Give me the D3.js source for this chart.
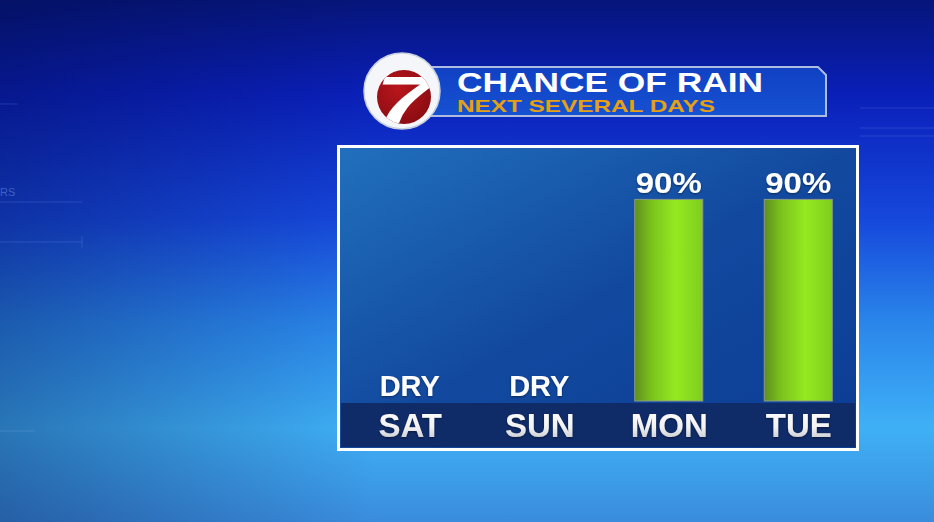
<!DOCTYPE html>
<html>
<head>
<meta charset="utf-8">
<script src="https://cdn.jsdelivr.net/npm/d3@7"></script>
<style>
  body { margin: 0; background: #0a2a9a; overflow: hidden; }
  svg { display: block; font-family: "Liberation Sans", Arial, sans-serif; font-weight: bold; }
</style>
</head>
<body>
<div id="chart"></div>
<script>
// chart data
const days = ["SAT", "SUN", "MON", "TUE"];
const rainChance = [0, 0, 90, 90];
const valueLabels = ["DRY", "DRY", "90%", "90%"];
const title = "CHANCE OF RAIN";
const subtitle = "NEXT SEVERAL DAYS";

const W = 934, H = 522;

const svg = d3.select("#chart").append("svg")
  .attr("width", W)
  .attr("height", H);

const defs = svg.append("defs");

// background gradients
const bg = defs.append("linearGradient").attr("id", "bg")
  .attr("x1", 0).attr("y1", 0).attr("x2", 0).attr("y2", 1);
[[0, "#06157a"], [0.18, "#0a1fb8"], [0.42, "#1648dc"], [0.62, "#2a86ea"], [0.82, "#3fb0f6"], [1, "#3a8cdc"]]
  .forEach(s => bg.append("stop").attr("offset", s[0]).attr("stop-color", s[1]));

const shade = defs.append("linearGradient").attr("id", "shade")
  .attr("x1", 0).attr("y1", 0).attr("x2", 1).attr("y2", 0);
[[0, "#000a40", 0.35], [0.4, "#000a40", 0], [1, "#000a40", 0]]
  .forEach(s => shade.append("stop").attr("offset", s[0]).attr("stop-color", s[1]).attr("stop-opacity", s[2]));

const panelGrad = defs.append("linearGradient").attr("id", "panel")
  .attr("x1", 0).attr("y1", 0).attr("x2", 1).attr("y2", 1);
panelGrad.append("stop").attr("offset", 0).attr("stop-color", "#2170bd");
panelGrad.append("stop").attr("offset", 0.5).attr("stop-color", "#12499f");
panelGrad.append("stop").attr("offset", 1).attr("stop-color", "#0c3c94");

const barGrad = defs.append("linearGradient").attr("id", "bar")
  .attr("x1", 0).attr("y1", 0).attr("x2", 1).attr("y2", 0);
[[0, "#5f8f1c"], [0.25, "#7cc21e"], [0.6, "#93ea1f"], [1, "#7fcd1f"]]
  .forEach(s => barGrad.append("stop").attr("offset", s[0]).attr("stop-color", s[1]));

const dayGrad = defs.append("linearGradient").attr("id", "dayText")
  .attr("x1", 0).attr("y1", 0).attr("x2", 0).attr("y2", 1);
dayGrad.append("stop").attr("offset", 0).attr("stop-color", "#ffffff");
dayGrad.append("stop").attr("offset", 0.55).attr("stop-color", "#f2f2f2");
dayGrad.append("stop").attr("offset", 1).attr("stop-color", "#b8bcc4");

const headGrad = defs.append("linearGradient").attr("id", "head")
  .attr("x1", 0).attr("y1", 0).attr("x2", 0).attr("y2", 1);
headGrad.append("stop").attr("offset", 0).attr("stop-color", "#1040c4");
headGrad.append("stop").attr("offset", 1).attr("stop-color", "#1652d2");

const logoGrad = defs.append("radialGradient").attr("id", "logoRed")
  .attr("cx", 0.4).attr("cy", 0.35).attr("r", 0.7);
logoGrad.append("stop").attr("offset", 0).attr("stop-color", "#b8161c");
logoGrad.append("stop").attr("offset", 1).attr("stop-color", "#8a0c12");

defs.append("clipPath").attr("id", "redClip")
  .append("circle").attr("cx", 404).attr("cy", 97).attr("r", 27);

defs.append("filter").attr("id", "txtShadow")
  .append("feDropShadow").attr("dx", 0).attr("dy", 1).attr("stdDeviation", 1)
  .attr("flood-color", "#000").attr("flood-opacity", 0.45);

// background
svg.append("rect").attr("width", W).attr("height", H).attr("fill", "url(#bg)");
svg.append("rect").attr("width", W).attr("height", H).attr("fill", "url(#shade)");

// faint decorative lines
const deco = svg.append("g").attr("stroke", "#8fc4ff").attr("stroke-opacity", 0.18).attr("fill", "none");
[[0, 104, 18, 104], [0, 202, 82, 202], [0, 242, 82, 242], [82, 236, 82, 248], [0, 431, 35, 431],
 [860, 108, 934, 108], [860, 128, 934, 128], [860, 136, 934, 136]]
  .forEach(l => deco.append("line").attr("x1", l[0]).attr("y1", l[1]).attr("x2", l[2]).attr("y2", l[3]));
svg.append("text").attr("x", 0).attr("y", 196).attr("font-size", 11).attr("font-weight", "normal")
  .attr("fill", "#9ec8ff").attr("fill-opacity", 0.35).text("RS");

// header bar
svg.append("path")
  .attr("d", "M425,67 L818,67 L826,75 L826,116 L425,116 Z")
  .attr("fill", "url(#head)")
  .attr("stroke", "#aebbe0")
  .attr("stroke-width", 2);

svg.append("text")
  .attr("x", 457).attr("y", 92)
  .attr("font-size", 27)
  .attr("fill", "#ffffff")
  .attr("textLength", 306).attr("lengthAdjust", "spacingAndGlyphs")
  .text(title);

svg.append("text")
  .attr("x", 457).attr("y", 112)
  .attr("font-size", 17)
  .attr("fill", "#e6a014")
  .attr("textLength", 258).attr("lengthAdjust", "spacingAndGlyphs")
  .text(subtitle);

// logo
svg.append("circle").attr("cx", 402).attr("cy", 91).attr("r", 38)
  .attr("fill", "#f4f6fa").attr("stroke", "#c8d0e0").attr("stroke-width", 1.5);
svg.append("circle").attr("cx", 404).attr("cy", 97).attr("r", 27).attr("fill", "url(#logoRed)");
svg.append("g").attr("clip-path", "url(#redClip)")
  .append("text")
  .attr("transform", "translate(404,123) scale(1.55,1)")
  .attr("text-anchor", "middle")
  .attr("font-size", 66)
  .attr("font-style", "italic")
  .attr("fill", "#ffffff")
  .text("7");

// chart panel
const panel = { x: 337, y: 145, w: 522, h: 306 };
svg.append("rect")
  .attr("x", panel.x + 1.5).attr("y", panel.y + 1.5)
  .attr("width", panel.w - 3).attr("height", panel.h - 3)
  .attr("fill", "url(#panel)")
  .attr("stroke", "#ffffff").attr("stroke-width", 3);

const bandTop = 403, bandBottom = 447;
svg.append("rect")
  .attr("x", panel.x + 4).attr("y", bandTop)
  .attr("width", panel.w - 8).attr("height", bandBottom - bandTop)
  .attr("fill", "#0f2b68");

// scales
const x = d3.scalePoint()
  .domain(days)
  .range([345, 863])
  .padding(0.5);

const y = d3.scaleLinear()
  .domain([0, 100])
  .range([401, 177]);

const barW = 68;
const data = days.map((d, i) => ({ day: d, value: rainChance[i], label: valueLabels[i] }));

// bars
svg.append("g").selectAll("rect")
  .data(data.filter(d => d.value > 0))
  .enter()
  .append("rect")
  .attr("x", d => x(d.day) - barW / 2)
  .attr("y", d => y(d.value))
  .attr("width", barW)
  .attr("height", d => y(0) - y(d.value))
  .attr("fill", "url(#bar)")
  .attr("stroke", "#8c9a86")
  .attr("stroke-width", 1);

// value labels
svg.append("g").selectAll("text")
  .data(data)
  .enter()
  .append("text")
  .attr("x", d => x(d.day))
  .attr("y", d => d.value > 0 ? y(d.value) - 6 : y(0) - 5)
  .attr("text-anchor", "middle")
  .attr("font-size", 29)
  .attr("fill", "#ffffff")
  .attr("filter", "url(#txtShadow)")
  .attr("textLength", d => d.value > 0 ? 66 : null)
  .attr("lengthAdjust", "spacingAndGlyphs")
  .text(d => d.label);

// day labels (x axis)
const axis = svg.append("g")
  .attr("transform", "translate(0," + 437 + ")")
  .call(d3.axisBottom(x).tickSize(0).tickPadding(0));
axis.select(".domain").remove();
axis.selectAll("text")
  .attr("dy", 0)
  .attr("font-size", 33)
  .attr("font-family", "'Liberation Sans', Arial, sans-serif")
  .attr("font-weight", "bold")
  .attr("fill", "url(#dayText)")
  .attr("filter", "url(#txtShadow)");
</script>
</body>
</html>
